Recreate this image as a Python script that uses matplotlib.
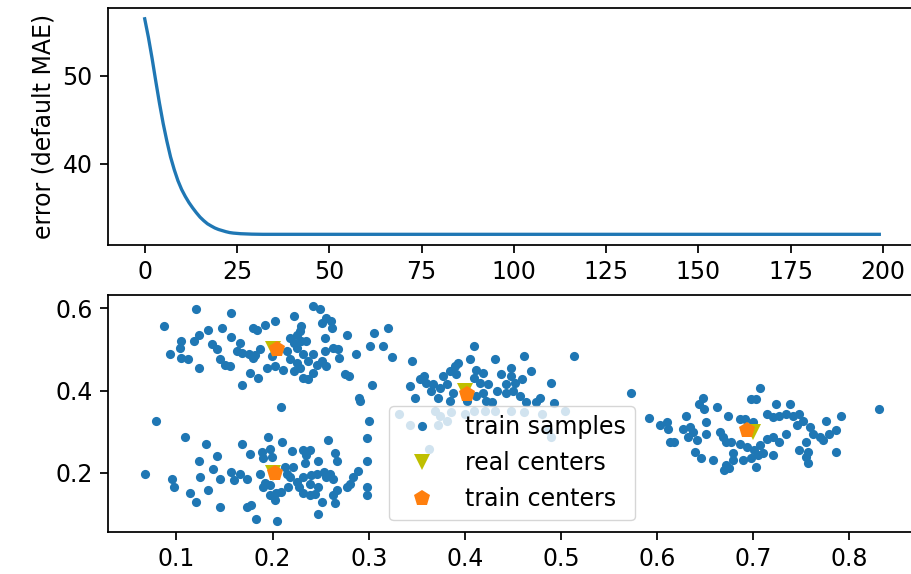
import matplotlib
matplotlib.use("Agg")
import matplotlib.pyplot as plt

# ---- top panel: training error per iteration ----
error_head = [56.5, 54.4, 52.0, 49.4, 46.9, 44.6, 42.6, 40.8, 39.35, 38.1,
              37.1, 36.3, 35.6, 35.0, 34.45, 33.95, 33.55, 33.2, 32.95, 32.72,
              32.55, 32.42, 32.3, 32.2, 32.14, 32.1, 32.07, 32.05, 32.03, 32.02,
              32.01]
error_tail = [32.0] * (200 - len(error_head))
error = error_head + error_tail
iterations = list(range(len(error)))

# ---- bottom panel: samples and centers ----
samples_x = [
    # cluster around (0.2, 0.5)
    0.120, 0.157, 0.087, 0.242, 0.249, 0.222, 0.202, 0.192, 0.180, 0.184,
    0.256, 0.261, 0.251, 0.262, 0.230, 0.228, 0.225, 0.147, 0.133, 0.123,
    0.118, 0.105, 0.104, 0.093, 0.105, 0.112, 0.123, 0.137, 0.142, 0.145,
    0.150, 0.156, 0.157, 0.166, 0.163, 0.168, 0.175, 0.182, 0.187, 0.176,
    0.185, 0.168, 0.194, 0.202, 0.218, 0.222, 0.215, 0.218, 0.211, 0.222,
    0.228, 0.232, 0.237, 0.235, 0.242, 0.237, 0.246, 0.251, 0.254, 0.255,
    0.263, 0.268, 0.269, 0.256, 0.277, 0.275, 0.279, 0.287, 0.301, 0.305,
    0.320, 0.315, 0.324, 0.303, 0.290, 0.225, 0.232, 0.225, 0.242, 0.230,
    0.180, 0.199,
    # cluster around (0.2, 0.2)
    0.209, 0.291, 0.079, 0.300, 0.109, 0.131, 0.168, 0.195, 0.210, 0.258,
    0.298, 0.176, 0.142, 0.123, 0.189, 0.197, 0.199, 0.190, 0.220, 0.232,
    0.239, 0.235, 0.234, 0.247, 0.265, 0.267, 0.298, 0.067, 0.095, 0.097,
    0.124, 0.138, 0.145, 0.157, 0.160, 0.173, 0.187, 0.213, 0.221, 0.218,
    0.225, 0.232, 0.240, 0.246, 0.253, 0.260, 0.263, 0.239, 0.247, 0.227,
    0.216, 0.209, 0.204, 0.197, 0.192, 0.197, 0.202, 0.114, 0.120, 0.133,
    0.145, 0.173, 0.178, 0.183, 0.205, 0.232, 0.239, 0.244, 0.251, 0.263,
    0.265, 0.247, 0.277, 0.280, 0.284, 0.289, 0.298, 0.298, 0.267, 0.166,
    0.215, 0.190, 0.256,
    # cluster around (0.4, 0.4)
    0.409, 0.345, 0.461, 0.514, 0.431, 0.393, 0.390, 0.405, 0.384, 0.377,
    0.412, 0.419, 0.410, 0.416, 0.424, 0.438, 0.448, 0.448, 0.452, 0.443,
    0.443, 0.450, 0.457, 0.459, 0.469, 0.490, 0.343, 0.353, 0.360, 0.367,
    0.365, 0.374, 0.381, 0.391, 0.388, 0.357, 0.348, 0.372, 0.412, 0.419,
    0.422, 0.428, 0.478, 0.474, 0.493, 0.433, 0.464, 0.384, 0.402,
    0.331, 0.343, 0.369, 0.374, 0.381, 0.372, 0.386, 0.400, 0.410, 0.421,
    0.431, 0.448, 0.462, 0.486, 0.490, 0.363, 0.480, 0.504,
    # cluster around (0.7, 0.3)
    0.573, 0.707, 0.698, 0.703, 0.648, 0.644, 0.649, 0.662, 0.724, 0.738,
    0.591, 0.603, 0.610, 0.611, 0.630, 0.627, 0.634, 0.637, 0.641, 0.651,
    0.674, 0.686, 0.691, 0.700, 0.714, 0.720, 0.727, 0.734, 0.741, 0.748,
    0.752, 0.776, 0.791, 0.831, 0.665, 0.668, 0.672, 0.677, 0.686, 0.693,
    0.701, 0.707, 0.714, 0.720, 0.727, 0.734, 0.745, 0.759, 0.762, 0.769,
    0.772, 0.779, 0.786, 0.755, 0.748, 0.757, 0.786, 0.757, 0.755, 0.679,
    0.689, 0.698, 0.705, 0.710, 0.720, 0.703, 0.639, 0.646, 0.658, 0.672,
    0.679, 0.670, 0.675, 0.613, 0.618, 0.632, 0.651,
]
samples_y = [
    # cluster around (0.2, 0.5)
    0.598, 0.588, 0.558, 0.606, 0.598, 0.582, 0.570, 0.560, 0.552, 0.547,
    0.576, 0.568, 0.564, 0.552, 0.558, 0.544, 0.536, 0.552, 0.548, 0.536,
    0.521, 0.520, 0.504, 0.489, 0.478, 0.476, 0.455, 0.512, 0.500, 0.476,
    0.463, 0.459, 0.529, 0.516, 0.496, 0.492, 0.488, 0.486, 0.500, 0.443,
    0.431, 0.414, 0.455, 0.459, 0.528, 0.516, 0.496, 0.476, 0.451, 0.447,
    0.455, 0.431, 0.427, 0.520, 0.488, 0.472, 0.463, 0.472, 0.496, 0.528,
    0.504, 0.500, 0.480, 0.459, 0.536, 0.439, 0.435, 0.489, 0.508, 0.540,
    0.553, 0.508, 0.481, 0.414, 0.382, 0.504, 0.488, 0.467, 0.443, 0.520,
    0.479, 0.484,
    # cluster around (0.2, 0.2)
    0.361, 0.375, 0.327, 0.327, 0.287, 0.269, 0.269, 0.287, 0.275, 0.280,
    0.285, 0.245, 0.240, 0.229, 0.251, 0.259, 0.239, 0.235, 0.253, 0.255,
    0.256, 0.243, 0.224, 0.229, 0.247, 0.229, 0.229, 0.198, 0.184, 0.165,
    0.189, 0.210, 0.186, 0.202, 0.182, 0.186, 0.197, 0.214, 0.214, 0.190,
    0.178, 0.190, 0.194, 0.198, 0.202, 0.197, 0.186, 0.173, 0.166, 0.166,
    0.166, 0.154, 0.150, 0.170, 0.174, 0.146, 0.134, 0.152, 0.128, 0.157,
    0.118, 0.118, 0.122, 0.088, 0.082, 0.150, 0.146, 0.149, 0.128, 0.146,
    0.126, 0.100, 0.166, 0.173, 0.190, 0.205, 0.166, 0.146, 0.158, 0.198,
    0.198, 0.166, 0.190,
    # cluster around (0.4, 0.4)
    0.508, 0.472, 0.484, 0.484, 0.477, 0.468, 0.460, 0.477, 0.447, 0.435,
    0.451, 0.443, 0.431, 0.419, 0.415, 0.439, 0.455, 0.435, 0.419, 0.415,
    0.394, 0.399, 0.387, 0.427, 0.447, 0.419, 0.411, 0.427, 0.419, 0.415,
    0.399, 0.407, 0.415, 0.439, 0.395, 0.435, 0.383, 0.383, 0.387, 0.395,
    0.375, 0.371, 0.383, 0.371, 0.370, 0.399, 0.371, 0.375, 0.375,
    0.343, 0.315, 0.351, 0.339, 0.327, 0.315, 0.347, 0.343, 0.351, 0.351,
    0.351, 0.351, 0.347, 0.303, 0.287, 0.259, 0.343, 0.351,
    # cluster around (0.7, 0.3)
    0.395, 0.407, 0.379, 0.379, 0.383, 0.367, 0.355, 0.359, 0.367, 0.367,
    0.333, 0.315, 0.323, 0.307, 0.339, 0.307, 0.311, 0.299, 0.279, 0.323,
    0.339, 0.331, 0.331, 0.323, 0.343, 0.335, 0.339, 0.343, 0.339, 0.343,
    0.327, 0.327, 0.339, 0.355, 0.299, 0.287, 0.275, 0.275, 0.271, 0.263,
    0.255, 0.267, 0.283, 0.287, 0.275, 0.295, 0.315, 0.311, 0.295, 0.287,
    0.279, 0.295, 0.303, 0.275, 0.255, 0.251, 0.251, 0.223, 0.239, 0.247,
    0.231, 0.235, 0.243, 0.247, 0.243, 0.215, 0.251, 0.235, 0.231, 0.219,
    0.231, 0.206, 0.211, 0.275, 0.275, 0.287, 0.295,
]

real_centers_x = [0.2, 0.2, 0.4, 0.7]
real_centers_y = [0.5, 0.2, 0.4, 0.3]
train_centers_x = [0.205, 0.202, 0.402, 0.693]
train_centers_y = [0.500, 0.199, 0.392, 0.303]

# ---- styling ----
S = 2.2 * 72 / 100.0  # scale factor from the original rendering
plt.rcParams.update({
    "font.size": 17,
    "axes.linewidth": 0.8 * S,
    "xtick.major.width": 0.8 * S,
    "ytick.major.width": 0.8 * S,
    "xtick.major.size": 3.5 * S,
    "ytick.major.size": 3.5 * S,
    "xtick.major.pad": 3.5 * S,
    "ytick.major.pad": 3.5 * S,
    "axes.labelpad": 3.0 * S,
})

fig = plt.figure(figsize=(9.12, 5.74), dpi=100)
ax1 = fig.add_axes([0.1184, 0.573, 0.886, 0.413])
ax2 = fig.add_axes([0.1184, 0.073, 0.886, 0.413])

ax1.plot(iterations, error, color="#1f77b4", linewidth=1.5 * S)
ax1.set_ylabel("error (default MAE)")
ax1.set_xticks([0, 25, 50, 75, 100, 125, 150, 175, 200])
ax1.set_yticks([40, 50])

ax2.plot(samples_x, samples_y, "o", color="#1f77b4", markersize=6.6,
         markeredgewidth=0.0, label="train samples")
ax2.plot(real_centers_x, real_centers_y, "v", color="y", markersize=11,
         markeredgewidth=0.0, label="real centers")
ax2.plot(train_centers_x, train_centers_y, "p", color="#ff7f0e",
         markersize=12, markeredgewidth=0.0, label="train centers")
ax2.set_xticks([0.1, 0.2, 0.3, 0.4, 0.5, 0.6, 0.7, 0.8])
ax2.set_yticks([0.2, 0.4, 0.6])
ax2.legend(loc="lower center", framealpha=0.8)

fig.savefig("out.png", dpi=100)
